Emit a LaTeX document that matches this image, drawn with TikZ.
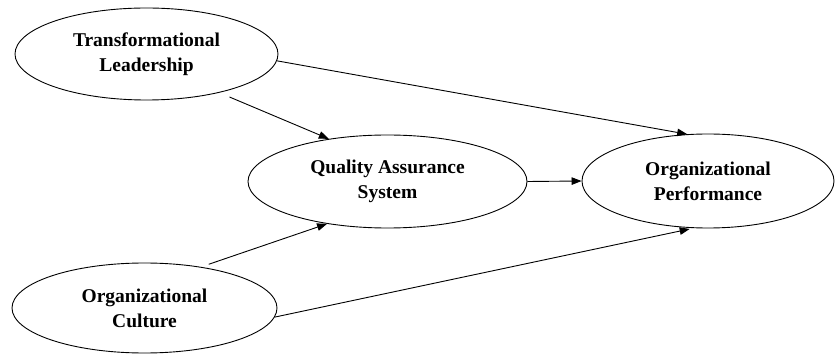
\documentclass[tikz,border=0pt]{standalone}
\usepackage{fontspec}
\setmainfont{Liberation Serif}
\usepackage{tikz}
\usetikzlibrary{shapes.geometric, arrows.meta, positioning}
\tikzset{
	construct/.style={draw, ellipse, line width=0.9pt, inner sep=0pt, align=center,
		font=\fontsize{19.5}{25}\selectfont\bfseries},
	path/.style={line width=0.9pt, -{Triangle[length=10pt, width=7.5pt]}}
}
\begin{document}
\begin{tikzpicture}[x=1pt, y=-1pt]
		\useasboundingbox (0,0) rectangle (835,355);
		
		% Transformational Leadership
		\node[construct, minimum width=263pt, minimum height=92pt] (lead) at (146.5,54) {Transformational\\Leadership};
		
		% Quality Assurance System
		\node[construct, minimum width=279pt, minimum height=93pt] (qas) at (387.5,181.5) {Quality Assurance\\System};
		
		% Organizational Performance
		\node[construct, minimum width=252pt, minimum height=94pt] (perf) at (708,181) {Organizational\\Performance};
		
		% Organizational Culture
		\node[construct, minimum width=265pt, minimum height=90pt] (cult) at (144.5,308) {Organizational\\Culture};
		
		% Arrows
		\draw[path, shorten <=11pt] (lead.-28) -- (qas.144);
		\draw[path] (lead.-3.5) -- (perf.114);
		\draw[path] (qas.east) -- (perf.west);
		\draw[path, shorten <=8pt] (cult.36) -- (qas.215);
		\draw[path, shorten >=4pt] (cult.-4) -- (perf.253);
	\end{tikzpicture}
\end{document}
